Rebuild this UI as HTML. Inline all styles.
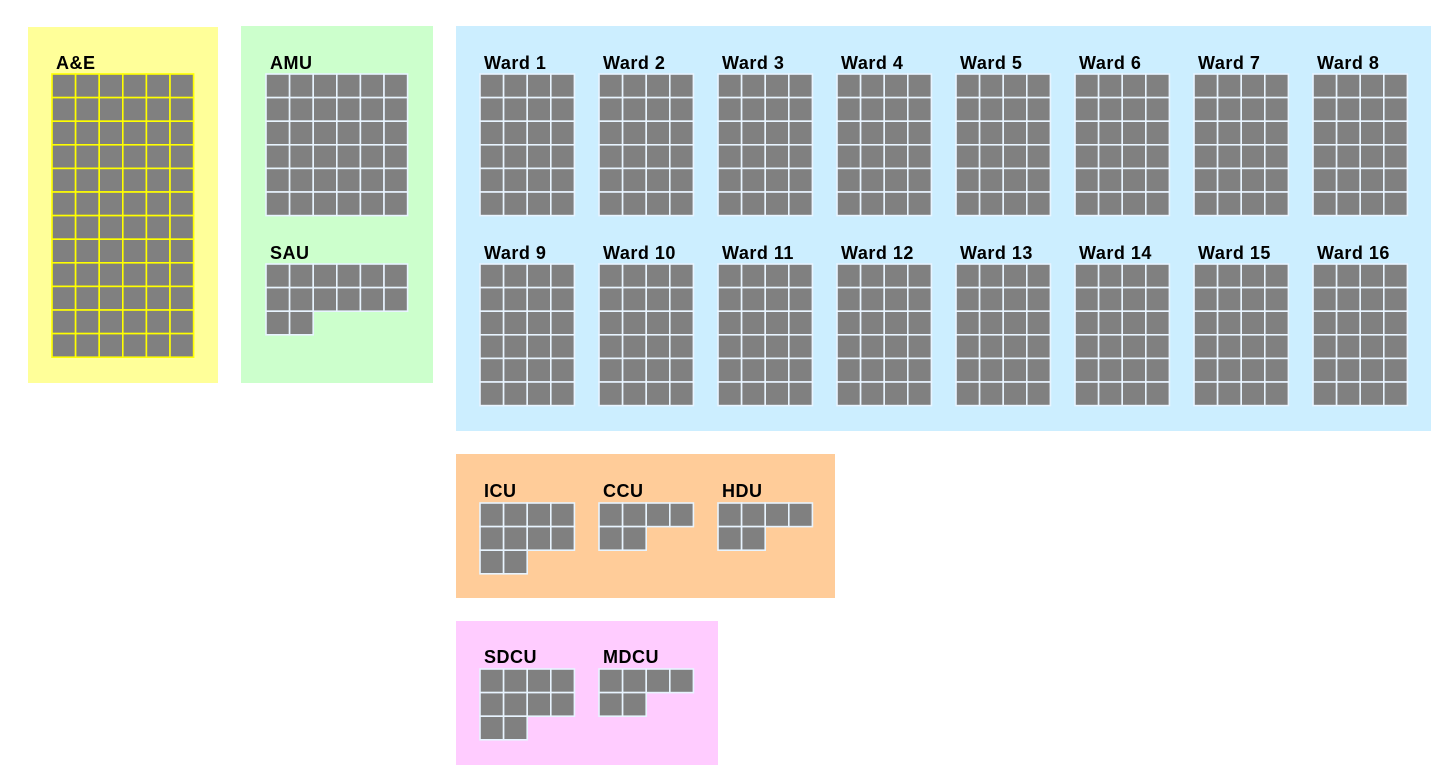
<!DOCTYPE html>
<html><head><meta charset="utf-8"><style>
html,body{margin:0;padding:0;background:#fff;}
svg{display:block}
text{font-family:"Liberation Sans",Arial,sans-serif;font-weight:bold;font-size:18px;fill:#000;letter-spacing:0.5px}
</style></head><body>
<svg id="s" width="1456" height="784" xmlns="http://www.w3.org/2000/svg">
<rect x="28" y="27" width="190" height="356" fill="#ffff99"/>
<rect x="241" y="26" width="192" height="357" fill="#ccffcc"/>
<rect x="456" y="26" width="975" height="405" fill="#cceeff"/>
<rect x="456" y="454" width="379" height="144" fill="#ffcc99"/>
<rect x="456" y="621" width="262" height="144" fill="#ffccff"/>
<g id="cells"></g>
<text x="56" y="69">A&amp;E</text>
<text x="270" y="69">AMU</text>
<text x="270" y="259">SAU</text>
<text x="484" y="69">Ward 1</text>
<text x="603" y="69">Ward 2</text>
<text x="722" y="69">Ward 3</text>
<text x="841" y="69">Ward 4</text>
<text x="960" y="69">Ward 5</text>
<text x="1079" y="69">Ward 6</text>
<text x="1198" y="69">Ward 7</text>
<text x="1317" y="69">Ward 8</text>
<text x="484" y="259">Ward 9</text>
<text x="603" y="259">Ward 10</text>
<text x="722" y="259">Ward 11</text>
<text x="841" y="259">Ward 12</text>
<text x="960" y="259">Ward 13</text>
<text x="1079" y="259">Ward 14</text>
<text x="1198" y="259">Ward 15</text>
<text x="1317" y="259">Ward 16</text>
<text x="484" y="497">ICU</text>
<text x="603" y="497">CCU</text>
<text x="722" y="497">HDU</text>
<text x="484" y="663">SDCU</text>
<text x="603" y="663">MDCU</text>
</svg>
<script>
var g=document.getElementById('cells'),P=23.6;
function grid(x,y,rows,line){
  for(var r=0;r<rows.length;r++)for(var c=0;c<rows[r];c++){
    var e=document.createElementNS('http://www.w3.org/2000/svg','rect');
    e.setAttribute('x',x+c*P);e.setAttribute('y',y+r*P);
    e.setAttribute('width',P);e.setAttribute('height',P);
    e.setAttribute('fill','#808080');e.setAttribute('stroke',line);e.setAttribute('stroke-width','1.6');
    g.appendChild(e);
  }
}
var Y='#ffff00',W='#e8f4ff';
grid(52,74,[6,6,6,6,6,6,6,6,6,6,6,6],Y);
grid(266,74,[6,6,6,6,6,6],W);
grid(266,264,[6,6,2],W);
for(var i=0;i<8;i++){grid(480+i*119,74,[4,4,4,4,4,4],W);grid(480+i*119,264,[4,4,4,4,4,4],W);}
grid(480,503,[4,4,2],W);grid(599,503,[4,2],W);grid(718,503,[4,2],W);
grid(480,669,[4,4,2],W);grid(599,669,[4,2],W);
</script>
</body></html>
